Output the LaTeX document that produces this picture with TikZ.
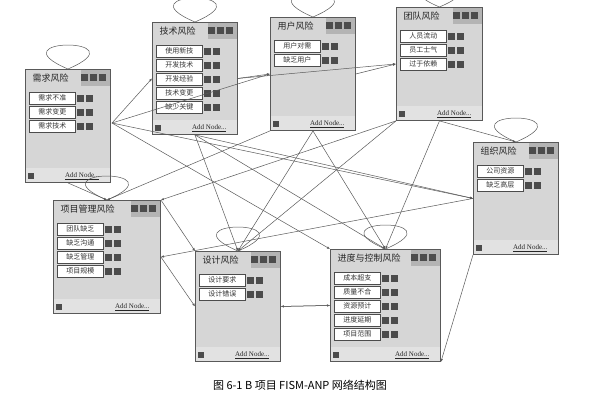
\documentclass[tikz,border=0pt]{standalone}
\usepackage{fontspec}
\setmainfont{Liberation Serif}
\newfontfamily\cjk{Noto Sans CJK SC}
\usetikzlibrary{arrows.meta,calc}
\definecolor{boxbg}{RGB}{214,214,214}
\definecolor{barbg}{RGB}{180,180,180}
\definecolor{edgec}{RGB}{90,90,90}
\tikzset{
 box/.style={draw=gray!70!black,line width=0.9pt,fill=boxbg,inner sep=0pt},
 itembox/.style={draw=gray!60!black,fill=white,line width=0.5pt,minimum width=46pt,minimum height=12pt,inner sep=1pt,anchor=west,font=\cjk\fontsize{7}{8}\selectfont,text=gray!40!black},
 icon/.style={fill=black!70,minimum size=7pt,inner sep=0pt},
 conn/.style={edgec,line width=0.5pt,-{Latex[length=3pt,width=2.5pt]}},
 loopc/.style={edgec,line width=0.5pt},
}
\newcommand\riskbox[7]{%
 \node[box,minimum width=#4pt,minimum height=#5pt,anchor=north west] (#1) at (#2,#3) {};
 \draw[loopc] (#1.north) .. controls +(-75,-32) and +(75,-32) .. (#1.north);
 \fill[barbg] ($(#1.north east)+(-30,0.5)$) rectangle ($(#1.north east)+(-0.5,17)$);
 \node[anchor=west,font=\cjk\fontsize{9}{10}\selectfont,text=gray!30!black] (#1-t) at ($(#1.north west)+(4,9)$) {#6};
 \node[icon] at ($(#1.north east)+(-26,8)$) {};
 \node[icon] at ($(#1.north east)+(-17,8)$) {};
 \node[icon] at ($(#1.north east)+(-8,8)$) {};
 \fill[boxbg!70!white] ($(#1.south west)+(0.5,-0.5)$) rectangle ($(#1.south east)+(-0.5,-15)$);
 \node[icon,minimum size=6pt] at ($(#1.south west)+(6,-7)$) {};
 \node[anchor=east,font=\fontsize{7}{8}\selectfont,text=gray!30!black] at ($(#1.south east)+(-8,-7)$) {\underline{Add Node...}};
 \foreach \t [count=\i] in {#7} {
  \node[itembox] (#1-\i) at ($(#1.north west)+(4,15+\i*14)$) {\t\hfill};
  \node[icon] at ($(#1-\i.east)+(5,0)$) {};
  \node[icon] at ($(#1-\i.east)+(14,0)$) {};
 }
}
\begin{document}
\begin{tikzpicture}[x=1pt,y=-1pt]
\useasboundingbox[fill=white] (0,0) rectangle (600,400);
\riskbox{req}{25}{69}{85}{113}{需求风险}{需求不准,需求变更,需求技术}
\riskbox{tech}{152}{22}{85}{112}{技术风险}{使用新技,开发技术,开发经验,技术变更,缺少关键}
\riskbox{user}{270}{17}{85}{113}{用户风险}{用户对需,缺乏用户}
\riskbox{team}{396}{7}{86}{113}{团队风险}{人员流动,员工士气,过于依赖}
\riskbox{org}{473}{142}{85}{112}{组织风险}{公司资源,缺乏高层}
\riskbox{pm}{53}{200}{107}{113}{项目管理风险}{团队缺乏,缺乏沟通,缺乏管理,项目规模}
\riskbox{des}{195}{251}{85}{110}{设计风险}{设计要求,设计错误}
\riskbox{sch}{330}{249}{110}{112}{进度与控制风险}{成本超支,质量不合,资源预计,进度延期,项目范围}
\coordinate (reqR) at (112,123);
\draw[conn] (reqR) -- (tech.west);
\draw[conn] (reqR) -- (user.west);
\draw[conn] (reqR) -- (org.west);
\draw[conn] (reqR) -- (sch.north west);
\draw[conn] (req.south) -- (pm.north);
\draw[conn] (tech.east) -- (user.west);
\draw[conn] (tech.south) -- (des.north);
\draw[conn] (tech.south) -- (sch.north);
\draw[conn] (tech.south) -- (org.west);
\draw[conn] (tech.east) -- (team.west);
\draw[conn] (user.east) -- (team.west);
\draw[conn] (user.south) -- (des.north);
\draw[conn] (user.south) -- (sch.north);
\draw[conn] (user.south west) -- (pm.north);
\draw[conn] (team.south) -- (org.north);
\draw[conn] (team.south) -- (sch.north);
\draw[conn] (team.south west) -- (pm.north east);
\draw[conn] (team.south west) -- (des.north);
\draw[conn] (org.west) -- (pm.east);
\draw[conn] (org.south west) -- (sch.south east);
\draw[conn] (pm.east) -- (des.west);
\draw[conn] (pm.north east) -- (des.north west);
\draw[conn] (des.east) -- (sch.west);
\draw[conn] (sch.west) -- (des.east);
\node[font=\cjk\fontsize{11}{13}\selectfont] (cap) at (300,385) {图 6-1 B 项目 FISM-ANP 网络结构图};
\end{tikzpicture}
\end{document}
